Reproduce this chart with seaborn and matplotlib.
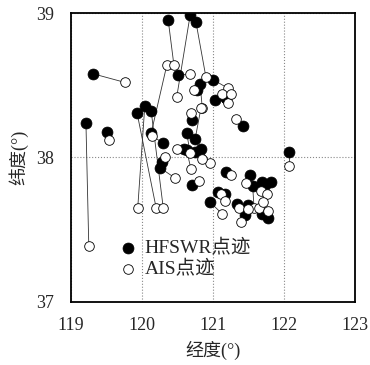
import pandas as pd
import matplotlib
matplotlib.use("Agg")
import matplotlib.pyplot as plt
import seaborn as sns

# HFSWR 点迹 (经度, 纬度) 及对应 AIS 点迹, 按序号配对
hf_lon = [119.21, 119.31, 119.51, 119.93, 120.04, 120.13, 120.13, 120.30, 120.37, 120.68,
          120.76, 120.51, 121.00, 120.82, 120.77, 121.03, 121.18, 121.42, 122.07, 120.70,
          120.75, 120.63, 120.59, 120.28, 120.25, 120.70, 120.63, 121.18, 121.52, 121.69,
          121.82, 121.56, 121.07, 121.17, 120.96, 121.34, 121.49, 121.45, 121.69, 121.77,
          121.73, 120.83, 120.75, 121.18]
hf_lat = [38.24, 38.58, 38.18, 38.31, 38.36, 38.32, 38.17, 38.10, 38.95, 38.99,
          38.94, 38.57, 38.54, 38.51, 38.47, 38.40, 38.41, 38.22, 38.04, 38.26,
          38.13, 38.17, 38.06, 37.97, 37.93, 37.81, 38.05, 37.90, 37.88, 37.83,
          37.83, 37.80, 37.76, 37.75, 37.69, 37.68, 37.67, 37.60, 37.61, 37.58,
          37.81, 38.06, 38.04, 38.41]
ais_lon = [119.25, 119.76, 119.54, 120.20, 119.94, 120.30, 120.35, 120.14, 120.45, 120.49,
           120.90, 120.68, 121.21, 120.85, 120.73, 121.13, 121.21, 121.32, 122.07, 120.69,
           120.83, 120.68, 120.49, 120.32, 120.46, 120.80, 120.69, 121.25, 121.46, 121.68,
           121.76, 121.58, 121.11, 121.17, 121.13, 121.37, 121.49, 121.39, 121.65, 121.77,
           121.70, 120.96, 120.85, 121.25]
ais_lat = [37.39, 38.52, 38.12, 37.65, 37.65, 37.65, 38.64, 38.15, 38.64, 38.42,
           38.56, 38.58, 38.48, 38.34, 38.47, 38.44, 38.38, 38.27, 37.94, 38.31,
           38.34, 38.03, 38.06, 38.00, 37.86, 37.84, 37.92, 37.88, 37.82, 37.77,
           37.75, 37.65, 37.75, 37.70, 37.61, 37.65, 37.64, 37.55, 37.65, 37.63,
           37.69, 37.96, 37.99, 38.44]

x_ticks = [119, 120, 121, 122, 123]
y_ticks = [37, 38, 39]

fonts = ["Liberation Serif", "Noto Sans CJK SC"]

hf = pd.DataFrame({"lon": hf_lon, "lat": hf_lat, "pair": range(len(hf_lon))})
ais = pd.DataFrame({"lon": ais_lon, "lat": ais_lat, "pair": range(len(ais_lon))})
pairs = pd.concat([hf, ais], ignore_index=True)

sns.set_style("white")
plt.rcParams["font.family"] = fonts

fig = plt.figure(figsize=(3.7, 3.65), dpi=100)
ax = fig.add_axes([0.192, 0.173, 0.767, 0.791])

# 连线
sns.lineplot(data=pairs, x="lon", y="lat", units="pair", estimator=None, sort=False,
             color="#333333", linewidth=0.6, ax=ax, legend=False)
# HFSWR 点迹
sns.scatterplot(data=hf, x="lon", y="lat", s=62, color="black", edgecolor="black",
                linewidth=0.5, ax=ax, label="HFSWR点迹", zorder=3)
# AIS 点迹
sns.scatterplot(data=ais, x="lon", y="lat", s=48, facecolor="white", edgecolor="black",
                linewidth=0.6, ax=ax, label="AIS点迹", zorder=4)

ax.set_xlim(119, 123)
ax.set_ylim(37, 39)
ax.set_xticks(x_ticks)
ax.set_yticks(y_ticks)
ax.tick_params(length=0, labelsize=13)
ax.tick_params(axis="x", pad=11)
ax.tick_params(axis="y", pad=12)
ax.grid(True, color="#888888", linestyle=":", linewidth=0.8)
for s in ax.spines.values():
    s.set_color("black")
    s.set_linewidth(1.3)

ax.set_xlabel("经度(°)", fontsize=13, labelpad=5)
ax.set_ylabel("纬度(°)", fontsize=13, labelpad=6)

ax.legend(loc="upper left", bbox_to_anchor=(0.14, 0.25), frameon=False,
          handlelength=0.8, handletextpad=0.45, labelspacing=0.15, borderpad=0,
          prop={"family": fonts, "size": 14})

fig.savefig("out.png", dpi=100)
